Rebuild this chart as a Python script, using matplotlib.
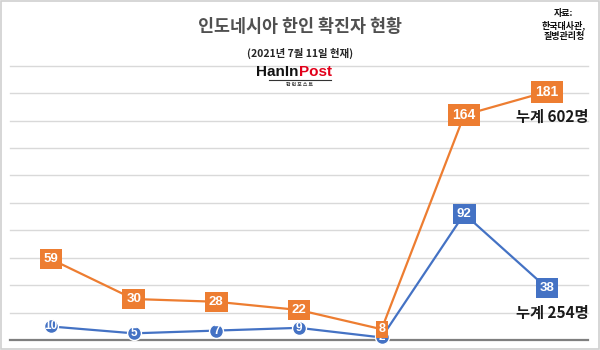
import matplotlib
matplotlib.use("Agg")
import matplotlib.pyplot as plt
from matplotlib.patches import Rectangle

plt.rcParams['font.family'] = ['Noto Sans CJK KR', 'DejaVu Sans']

# weekly confirmed cases
weeks = ["1", "2", "3", "4", "5", "6", "7"]
orange_vals = [59, 30, 28, 22, 8, 164, 181]
blue_vals = [10, 5, 7, 9, 2, 92, 38]
orange_total = "누계 602명"
blue_total = "누계 254명"

ORANGE = "#ED7D31"
BLUE = "#4472C4"
NUM_FONT = ["Liberation Sans", "DejaVu Sans"]

fig = plt.figure(figsize=(6, 3.5), dpi=100)
ax = fig.add_axes([9.7 / 600, 9.8 / 350, 578.5 / 600, 274.6 / 350])
x = list(range(len(weeks)))

ax.set_xlim(-0.5, len(weeks) - 0.5)
ax.set_ylim(0, 200)
for v in range(20, 201, 20):
    ax.axhline(v, color="#d9d9d9", lw=1, zorder=0, clip_on=False)
for s in ["left", "right", "top"]:
    ax.spines[s].set_visible(False)
ax.spines["bottom"].set_color("#7f7f7f")
ax.spines["bottom"].set_linewidth(1.6)
ax.set_xticks([])
ax.set_yticks([])

ax.plot(x, orange_vals, color=ORANGE, lw=1.6, zorder=2)
ax.plot(x, blue_vals, color=BLUE, lw=1.6, zorder=3)

# blue labels: circles for small values, boxes for the last two
for i, v in enumerate(blue_vals):
    if i < 5:
        ax.plot(i, v, "o", ms=10, mfc=BLUE, mec="white", mew=1, zorder=4,
                clip_on=False)
        ax.text(i, v, str(v), ha="center", va="center", color="white",
                fontsize=8.5, fontweight="bold", family=NUM_FONT, zorder=5)
    else:
        ax.text(i, v, str(v), ha="center", va="center", color="white",
                fontsize=9.5, fontweight="bold", family=NUM_FONT, zorder=5,
                bbox=dict(boxstyle="square,pad=0.3", fc=BLUE, ec="none"))

# orange labels: filled boxes on every point
for i, v in enumerate(orange_vals):
    fs = 9 if v < 10 else (10 if v > 100 else 9.5)
    pad = 0.2 if v < 10 else 0.3
    ax.text(i, v, str(v), ha="center", va="center", color="white",
            fontsize=fs, fontweight="bold", family=NUM_FONT, zorder=6,
            bbox=dict(boxstyle="square,pad=%s" % pad, fc=ORANGE, ec="none"))

# totals
fig.text(552 / 600, 1 - 117 / 350, orange_total, ha="center", va="center",
         fontsize=11, fontweight="bold", color="#1a1a1a")
fig.text(552 / 600, 1 - 313 / 350, blue_total, ha="center", va="center",
         fontsize=11, fontweight="bold", color="#1a1a1a")

# titles
fig.text(0.5, 1 - 27 / 350, "인도네시아 한인 확진자 현황", ha="center",
         va="center", fontsize=12.5, fontweight="bold", color="#505050")
fig.text(0.5, 1 - 53.5 / 350, "(2021년 7월 11일 현재)", ha="center",
         va="center", fontsize=7.5, fontweight="bold", color="#262626")

# logo
logo_font = ["Liberation Sans Narrow", "Liberation Sans"]
fig.text(298.5 / 600, 1 - 72.5 / 350, "HanIn", ha="right", va="center",
         fontsize=11, fontweight="bold", family=logo_font, color="#111111")
fig.text(298.5 / 600, 1 - 72.5 / 350, "Post", ha="left", va="center",
         fontsize=11, fontweight="bold", family=logo_font, color="#e2001a")
fig.add_artist(plt.Line2D([269 / 600, 331 / 600], [1 - 79.5 / 350] * 2,
                          color="#333333", lw=0.8))
fig.text(0.5, 1 - 84 / 350, "한 인 포 스 트", ha="center", va="center",
         fontsize=3.5, fontweight="bold", color="#333333")

# source
fig.text(564 / 600, 1 - 25 / 350, "자료:\n한국대사관,\n질병관리청", ha="center",
         va="center", fontsize=6.5, fontweight="bold", color="#111111",
         linespacing=1.25)

fig.add_artist(Rectangle((0.002, 0.002), 0.996, 0.995, transform=fig.transFigure,
                         fill=False, ec="#d0d0d0", lw=1.2))

fig.savefig("out.png", dpi=100)
